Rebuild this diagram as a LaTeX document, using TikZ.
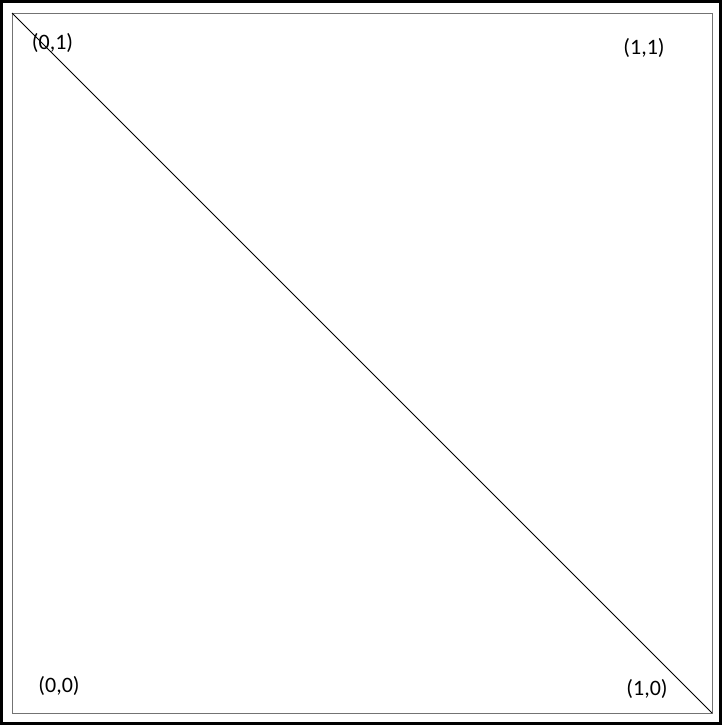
\documentclass[tikz,border=0pt]{standalone}
\usepackage{fontspec}
\setmainfont{Carlito}
\begin{document}
\begin{tikzpicture}[x=1pt,y=-1pt,
  outerframe/.style={draw=black,line width=3pt},
  innerframe/.style={draw=black!55,line width=1pt},
  diag/.style={draw=black,line width=0.8pt},
  lbl/.style={font=\fontsize{22}{26}\selectfont,inner sep=0pt}]
\useasboundingbox (0,0) rectangle (725,726);
\fill[white] (0,0) rectangle (725,726);
\draw[outerframe] (1.5,1.5) rectangle (720,723.5);
\draw[innerframe] (12,13) rectangle (712,713);
\coordinate (tl) at (12,13);
\coordinate (br) at (712,713);
\draw[diag] (tl) -- (br);
\node[lbl] (l01) at (52.5,43) {(0,1)};
\node[lbl] (l11) at (644,48) {(1,1)};
\node[lbl] (l00) at (59,686) {(0,0)};
\node[lbl] (l10) at (647,689) {(1,0)};
\end{tikzpicture}
\end{document}
